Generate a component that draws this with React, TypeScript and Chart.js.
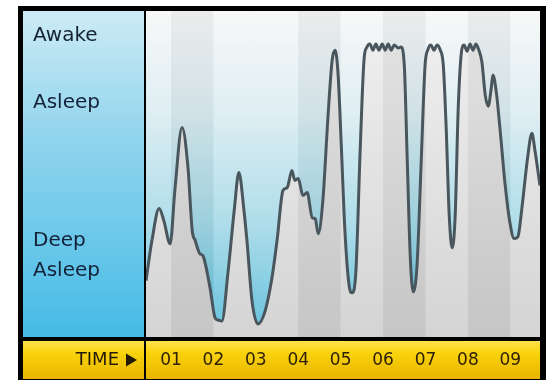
import React, { useEffect, useRef } from 'react';
import { Chart, registerables } from 'chart.js';

Chart.register(...registerables);

// Time in hours (01 .. 09 marks), sleep depth level (0 = deepest, 100 = fully awake)
const hours = [
  0.41, 0.55, 0.72, 0.83, 0.98, 1.09, 1.26, 1.40, 1.50, 1.57, 1.68, 1.75, 1.92, 2.04, 2.11, 2.20,
  2.34, 2.49, 2.60, 2.72, 2.79, 2.91, 3.05, 3.22, 3.38, 3.50, 3.64, 3.74, 3.85, 3.92, 4.00, 4.11,
  4.21, 4.33, 4.40, 4.47, 4.58, 4.70, 4.80, 4.87, 4.94, 5.01, 5.10, 5.20, 5.27, 5.36, 5.46, 5.55,
  5.62, 5.69, 5.76, 5.83, 5.90, 5.98, 6.05, 6.12, 6.19, 6.26, 6.36, 6.42, 6.50, 6.57, 6.64, 6.71,
  6.80, 6.90, 6.99, 7.06, 7.13, 7.20, 7.27, 7.34, 7.42, 7.49, 7.56, 7.63, 7.70, 7.77, 7.84, 7.91,
  7.98, 8.05, 8.12, 8.19, 8.26, 8.33, 8.41, 8.48, 8.55, 8.59, 8.67, 8.76, 8.88, 8.99, 9.09, 9.18,
  9.28, 9.40, 9.51, 9.58, 9.70,
];
const sleepLevel = [
  17.5, 29.8, 39.6, 35.9, 28.8, 45.1, 64.4, 52.1, 32.8, 29.8, 25.8, 25.2, 15.3, 6.1, 5.5, 5.2,
  19.6, 39.0, 50.6, 39.0, 29.8, 11.3, 4.3, 8.3, 18.4, 29.8, 45.1, 46.0, 51.2, 48.2, 48.8, 43.6,
  44.5, 36.8, 36.5, 31.9, 42.0, 67.5, 85.0, 88.0, 80.4, 60.4, 32.8, 16.0, 13.8, 20.6, 57.4, 85.0,
  89.0, 89.9, 88.0, 89.9, 88.0, 89.9, 88.0, 89.9, 88.0, 89.6, 88.7, 89.0, 83.4, 54.3, 25.2, 14.1,
  22.1, 54.3, 83.4, 88.3, 89.6, 88.0, 89.6, 88.3, 83.4, 63.5, 37.4, 27.6, 37.4, 69.6, 86.5, 89.6,
  87.7, 89.9, 88.0, 89.9, 88.0, 84.4, 74.2, 70.9, 76.4, 80.4, 75.2, 63.5, 46.6, 35.3, 30.4, 31.0,
  40.5, 54.3, 62.6, 57.4, 46.6,
];
const tickHours = [1, 2, 3, 4, 5, 6, 7, 8, 9];
const tickLabels = ['01', '02', '03', '04', '05', '06', '07', '08', '09'];
const stateLevels = [25, 72, 92.5];
const stateLabels: (string | string[])[] = [['Deep', 'Asleep'], 'Asleep', 'Awake'];
const axisTitle = 'TIME';
const xMin = 0.41;
const xMax = 9.7;
const darkBands = [1, 4, 6, 8];

const FONT = '"DejaVu Sans", Verdana, sans-serif';

const decorPlugin = {
  id: 'decor',
  beforeDraw(chart: any) {
    const { ctx, chartArea: ca } = chart;
    ctx.save();
    ctx.fillStyle = '#ffffff';
    ctx.fillRect(0, 0, chart.width, chart.height);
    // left panel
    const lg = ctx.createLinearGradient(0, 11, 0, ca.bottom);
    lg.addColorStop(0, '#cdebf5');
    lg.addColorStop(0.35, '#96d6ee');
    lg.addColorStop(1, '#45bbe6');
    ctx.fillStyle = lg;
    ctx.fillRect(23, 11, 122, ca.bottom - 11);
    // yellow band
    const yg = ctx.createLinearGradient(0, ca.bottom, 0, chart.height);
    yg.addColorStop(0, '#ffe65e');
    yg.addColorStop(0.35, '#f9d30c');
    yg.addColorStop(1, '#e8b300');
    ctx.fillStyle = yg;
    ctx.fillRect(23, ca.bottom, 517, chart.height - ca.bottom);
    // plot background
    const pg = ctx.createLinearGradient(0, ca.top, 0, ca.bottom);
    pg.addColorStop(0, '#f6f7f7');
    pg.addColorStop(0.3, '#dcedf2');
    pg.addColorStop(0.65, '#a4d9e7');
    pg.addColorStop(1, '#4fb9d8');
    ctx.fillStyle = pg;
    ctx.fillRect(ca.left, ca.top, ca.right - ca.left, ca.bottom - ca.top);
    ctx.restore();
  },
  beforeDatasetDraw(chart: any) {
    const { ctx, chartArea: ca, scales } = chart;
    const xs = scales.x;
    ctx.save();
    ctx.beginPath();
    ctx.rect(ca.left, ca.top, ca.right - ca.left, ca.bottom - ca.top);
    ctx.clip();
    for (let k = 0; k < 10; k++) {
      const x0 = xs.getPixelForValue(k);
      const x1 = xs.getPixelForValue(k + 1);
      ctx.fillStyle = darkBands.includes(k) ? 'rgba(0,0,0,0.045)' : 'rgba(255,255,255,0.12)';
      ctx.fillRect(x0, ca.top, x1 - x0, ca.bottom - ca.top);
    }
    ctx.restore();
  },
  afterDraw(chart: any) {
    const { ctx, chartArea: ca } = chart;
    ctx.save();
    ctx.fillStyle = '#000000';
    ctx.fillRect(18, 6, 5, chart.height - 6);
    ctx.fillRect(18, 6, 528, 5);
    ctx.fillRect(540, 6, 6, chart.height - 6);
    ctx.fillRect(144, 11, 2, chart.height - 11);
    ctx.fillRect(23, ca.bottom - 1, 517, 4);
    ctx.fillRect(18, chart.height - 1, 528, 1);
    // TIME ▶
    const cy = 360;
    ctx.fillStyle = '#231a06';
    ctx.font = '18px ' + FONT;
    ctx.textAlign = 'right';
    ctx.textBaseline = 'middle';
    ctx.fillText(axisTitle, 119, cy);
    ctx.beginPath();
    ctx.moveTo(126, cy - 6.5);
    ctx.lineTo(137, cy);
    ctx.lineTo(126, cy + 6.5);
    ctx.closePath();
    ctx.fill();
    ctx.restore();
  },
};

export default function App() {
  const ref = useRef<HTMLCanvasElement | null>(null);

  useEffect(() => {
    document.body.style.margin = '0';
    const canvas = ref.current;
    if (!canvas) return;
    const chart = new Chart(canvas, {
      type: 'line',
      data: {
        datasets: [
          {
            data: hours.map((h, i) => ({ x: h, y: sleepLevel[i] })),
            borderColor: '#4a565d',
            borderWidth: 3,
            pointRadius: 0,
            cubicInterpolationMode: 'monotone',
            fill: 'start',
            backgroundColor: (c: any) => {
              const ca = c.chart.chartArea;
              if (!ca) return '#dddddd';
              const g = c.chart.ctx.createLinearGradient(0, ca.top, 0, ca.bottom);
              g.addColorStop(0, '#efefef');
              g.addColorStop(1, '#cfcfcf');
              return g;
            },
          },
        ],
      },
      options: {
        animation: false,
        responsive: false,
        maintainAspectRatio: false,
        layout: { padding: { left: 33, top: 11, right: 10, bottom: 0 } },
        plugins: {
          legend: { display: false },
          tooltip: { enabled: false },
          filler: { drawTime: 'beforeDatasetsDraw' },
        },
        scales: {
          x: {
            type: 'linear',
            min: xMin,
            max: xMax,
            grid: { display: false, drawTicks: false },
            border: { display: false },
            afterBuildTicks: (s: any) => {
              s.ticks = tickHours.map((v) => ({ value: v }));
            },
            afterFit: (s: any) => {
              s.height = 42;
              s.paddingLeft = 0;
              s.paddingRight = 0;
            },
            ticks: {
              autoSkip: false,
              maxRotation: 0,
              padding: 12,
              color: '#2e2105',
              font: { family: FONT, size: 17 },
              callback: (_v: any, i: number) => tickLabels[i],
            },
          },
          y: {
            type: 'linear',
            min: 0,
            max: 100,
            grid: { display: false, drawTicks: false },
            border: { display: false },
            afterBuildTicks: (s: any) => {
              s.ticks = stateLevels.map((v) => ({ value: v }));
            },
            afterFit: (s: any) => {
              s.width = 113;
              s.paddingTop = 0;
              s.paddingBottom = 0;
            },
            ticks: {
              crossAlign: 'far',
              padding: 0,
              color: '#142238',
              font: { family: FONT, size: 20, lineHeight: 1.5 },
              callback: (_v: any, i: number) => stateLabels[i],
            },
          },
        },
      },
      plugins: [decorPlugin],
    } as any);
    return () => chart.destroy();
  }, []);

  return <canvas ref={ref} width={550} height={380} style={{ display: 'block', width: 550, height: 380 }} />;
}
